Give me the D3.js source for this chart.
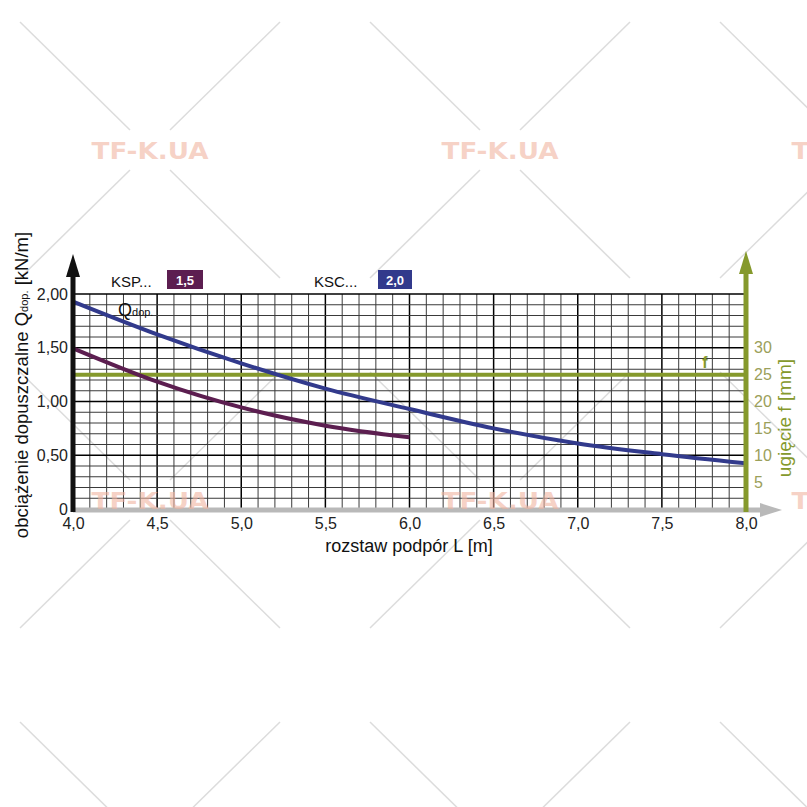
<!DOCTYPE html>
<html>
<head>
<meta charset="utf-8">
<script src="https://cdn.jsdelivr.net/npm/d3@7"></script>
<style>
  body { margin: 0; background: #fff; }
  svg { display: block; font-family: "Liberation Sans", Arial, sans-serif; }
</style>
</head>
<body>
<div id="chart"></div>
<script>
// span of supports L [m]
const spanKSC = [4.0, 4.5, 5.0, 5.5, 6.0, 6.5, 7.0, 7.5, 8.0];
const loadKSC = [1.93, 1.625, 1.355, 1.12, 0.93, 0.75, 0.61, 0.51, 0.425];
const spanKSP = [4.0, 4.5, 5.0, 5.5, 6.0];
const loadKSP = [1.495, 1.185, 0.945, 0.775, 0.667];
const deflectionLimit = 25;

const xTicks = [4.0, 4.5, 5.0, 5.5, 6.0, 6.5, 7.0, 7.5, 8.0];
const yTicks = [0, 0.5, 1.0, 1.5, 2.0];
const fTicks = [5, 10, 15, 20, 25, 30];
const crosses = [[150, 150], [500, 150], [850, 150], [150, 500], [500, 500], [850, 500], [150, 850], [500, 850], [850, 850]];
const stamps = [[150, 150], [500, 150], [850, 150], [150, 500], [500, 500], [850, 500]];

const W = 807, H = 807;
const blue = '#323a8c', purple = '#5c1e50', green = '#85992c';

const svg = d3.select('#chart').append('svg')
  .attr('width', W).attr('height', H);

const x = d3.scaleLinear().domain([4, 8]).range([73, 746]);
const y = d3.scaleLinear().domain([0, 2]).range([509, 294]);
const yf = d3.scaleLinear().domain([0, 40]).range([509, 294]);

const comma = (d, p) => d3.format(p)(d).replace('.', ',');

// watermark diagonal crosses (background)
const wm = svg.append('g');
crosses.forEach(([cx, cy]) => {
  [[-1, -1], [1, -1], [-1, 1], [1, 1]].forEach(([sx, sy]) => {
    wm.append('line')
      .attr('x1', cx + sx * 20).attr('y1', cy + sy * 20)
      .attr('x2', cx + sx * 130).attr('y2', cy + sy * 128)
      .attr('stroke', '#dcdcdc').attr('stroke-width', 1.5);
  });
});

// grid
const grid = svg.append('g');
const xMinor = d3.range(40, 81).map(d => d / 10);
const yMinor = d3.range(0, 21).map(d => d / 10);
xMinor.forEach(v => {
  const major = Math.abs(v * 2 - Math.round(v * 2)) < 1e-6;
  grid.append('line')
    .attr('x1', x(v)).attr('x2', x(v)).attr('y1', y(0)).attr('y2', y(2))
    .attr('stroke', major ? '#000' : '#3a3a3a').attr('stroke-width', major ? 1.5 : 1);
});
yMinor.forEach(v => {
  const major = Math.abs(v * 2 - Math.round(v * 2)) < 1e-6;
  grid.append('line')
    .attr('x1', x(4)).attr('x2', x(8)).attr('y1', y(v)).attr('y2', y(v))
    .attr('stroke', major ? '#000' : '#3a3a3a').attr('stroke-width', major ? 1.5 : 1);
});

// deflection limit line
svg.append('line')
  .attr('x1', x(4)).attr('x2', x(8))
  .attr('y1', yf(deflectionLimit)).attr('y2', yf(deflectionLimit))
  .attr('stroke', green).attr('stroke-width', 4);
svg.append('text')
  .attr('x', 705).attr('y', 368)
  .attr('fill', green).attr('font-size', 16).attr('font-weight', 'bold')
  .attr('text-anchor', 'middle').text('f');

// curves
const line = d3.line().x(d => x(d[0])).y(d => y(d[1])).curve(d3.curveMonotoneX);
svg.append('path')
  .datum(d3.zip(spanKSP, loadKSP))
  .attr('fill', 'none').attr('stroke', purple).attr('stroke-width', 4)
  .attr('d', line);
svg.append('path')
  .datum(d3.zip(spanKSC, loadKSC))
  .attr('fill', 'none').attr('stroke', blue).attr('stroke-width', 4)
  .attr('d', line);

// x axis (grey arrow)
svg.append('line')
  .attr('x1', x(4)).attr('x2', 762).attr('y1', y(0) + 1).attr('y2', y(0) + 1)
  .attr('stroke', '#b9b9b9').attr('stroke-width', 5);
svg.append('path')
  .attr('d', `M760,${y(0) - 6}L782,${y(0) + 1}L760,${y(0) + 8}Z`)
  .attr('fill', '#b9b9b9');

// left axis (black arrow)
svg.append('line')
  .attr('x1', x(4)).attr('x2', x(4)).attr('y1', y(0) + 3).attr('y2', 272)
  .attr('stroke', '#111').attr('stroke-width', 5);
svg.append('path')
  .attr('d', `M${x(4) - 7},277L${x(4)},254L${x(4) + 7},277Z`)
  .attr('fill', '#111');

// right axis (green arrow)
svg.append('line')
  .attr('x1', x(8)).attr('x2', x(8)).attr('y1', y(0) + 3).attr('y2', 270)
  .attr('stroke', green).attr('stroke-width', 5);
svg.append('path')
  .attr('d', `M${x(8) - 7},274L${x(8)},251L${x(8) + 7},274Z`)
  .attr('fill', green);

// tick labels via d3 axes
const xAxis = svg.append('g')
  .attr('transform', `translate(0,${y(0) + 5})`)
  .call(d3.axisBottom(x).tickValues(xTicks).tickSize(0).tickPadding(4)
    .tickFormat(d => comma(d, '.1f')));
const yAxis = svg.append('g')
  .attr('transform', `translate(${x(4) - 4},0)`)
  .call(d3.axisLeft(y).tickValues(yTicks).tickSize(0).tickPadding(1)
    .tickFormat(d => d === 0 ? '0' : comma(d, '.2f')));
const fAxis = svg.append('g')
  .attr('transform', `translate(${x(8) + 6},0)`)
  .call(d3.axisRight(yf).tickValues(fTicks).tickSize(0).tickPadding(2));
[xAxis, yAxis, fAxis].forEach(g => {
  g.select('.domain').remove();
  g.selectAll('text').attr('font-size', 16)
    .attr('font-family', '"Liberation Sans", Arial, sans-serif');
});
xAxis.selectAll('text').attr('fill', '#222');
yAxis.selectAll('text').attr('fill', '#222');
fAxis.selectAll('text').attr('fill', '#9ba05a');

// axis titles
svg.append('text')
  .attr('x', 409).attr('y', 552).attr('text-anchor', 'middle')
  .attr('font-size', 18).attr('fill', '#111')
  .text('rozstaw podpór L [m]');

const yTitle = svg.append('text')
  .attr('transform', 'translate(28,385) rotate(-90)')
  .attr('text-anchor', 'middle').attr('font-size', 18.5).attr('fill', '#111');
yTitle.append('tspan').text('obciążenie dopuszczalne Q');
yTitle.append('tspan').attr('font-size', 11).text('dop.');
yTitle.append('tspan').text(' [kN/m]');

svg.append('text')
  .attr('transform', 'translate(791,418) rotate(-90)')
  .attr('text-anchor', 'middle').attr('font-size', 19).attr('fill', green)
  .text('ugięcie f [mm]');

// series labels
const legend = [
  { name: 'KSP...', tag: '1,5', color: purple, tx: 111, bx: 167, bw: 36 },
  { name: 'KSC...', tag: '2,0', color: blue, tx: 314, bx: 378, bw: 34 }
];
legend.forEach(l => {
  svg.append('text').attr('x', l.tx).attr('y', 287)
    .attr('font-size', 15).attr('fill', '#111').text(l.name);
  svg.append('rect').attr('x', l.bx).attr('y', 270).attr('width', l.bw).attr('height', 19)
    .attr('fill', l.color);
  svg.append('text').attr('x', l.bx + l.bw / 2).attr('y', 285)
    .attr('text-anchor', 'middle').attr('font-size', 13).attr('font-weight', 'bold')
    .attr('fill', '#fff').text(l.tag);
});

const q = svg.append('text').attr('x', 118).attr('y', 316).attr('font-size', 18).attr('fill', '#111');
q.append('tspan').text('Q');
q.append('tspan').attr('font-size', 11).text('dop.');

// watermark text
stamps.forEach(([cx, cy]) => {
  svg.append('text')
    .attr('x', cx).attr('y', cy + 9)
    .attr('text-anchor', 'middle')
    .attr('font-family', '"DejaVu Sans", sans-serif')
    .attr('font-weight', 'bold').attr('font-size', 23)
    .attr('textLength', 117).attr('lengthAdjust', 'spacingAndGlyphs')
    .attr('fill', '#f0b4a0').attr('fill-opacity', 0.6)
    .text('TF-K.UA');
});
</script>
</body>
</html>
